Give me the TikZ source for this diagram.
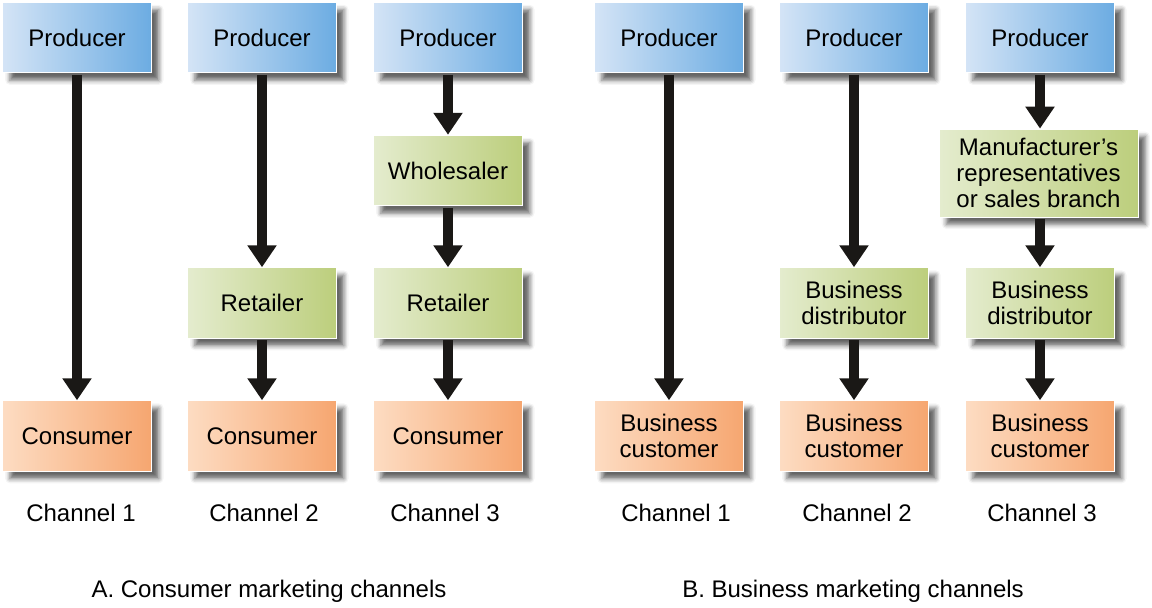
\documentclass[tikz,border=0pt]{standalone}
\usepackage{fontspec}
\setmainfont{Liberation Sans}
\usetikzlibrary{arrows.meta,shadows.blur}
\definecolor{bL}{RGB}{212,228,246}
\definecolor{bR}{RGB}{108,172,226}
\definecolor{gL}{RGB}{228,236,206}
\definecolor{gR}{RGB}{188,206,124}
\definecolor{oL}{RGB}{253,220,194}
\definecolor{oR}{RGB}{246,166,112}
\definecolor{arr}{RGB}{26,24,22}
\begin{document}
\begin{tikzpicture}[x=0.75pt,y=-0.75pt,
  box/.style={rectangle, inner sep=0pt, minimum width=111.75pt, minimum height=53pt,
    draw=white, line width=0.6pt, align=center,
    font=\fontsize{18}{19.5}\selectfont,
    blur shadow={shadow xshift=5.5pt, shadow yshift=-5.5pt, shadow blur radius=3.5pt, shadow opacity=60}},
  prod/.style={box, left color=bL, right color=bR},
  mid/.style={box, left color=gL, right color=gR},
  cons/.style={box, left color=oL, right color=oR},
  lab/.style={font=\fontsize{18}{19.5}\selectfont, inner sep=0pt},
  flow/.style={draw=arr, line width=7.5pt, -{Triangle[width=21pt,length=16.5pt]}, shorten <=1pt}
]
\useasboundingbox (0,0) rectangle (1152,607);

% Column A1
\node[prod] (pa1) at (77,37.5) {Producer};
\node[cons] (ca1) at (77,436) {Consumer};
% Column A2
\node[prod] (pa2) at (262,37.5) {Producer};
\node[mid]  (ra2) at (262,303) {Retailer};
\node[cons] (ca2) at (262,436) {Consumer};
% Column A3
\node[prod] (pa3) at (448,37.5) {Producer};
\node[mid]  (wa3) at (448,170.5) {Wholesaler};
\node[mid]  (ra3) at (448,303) {Retailer};
\node[cons] (ca3) at (448,436) {Consumer};
% Column B1
\node[prod] (pb1) at (669,37.5) {Producer};
\node[cons] (cb1) at (669,436) {Business\\customer};
% Column B2
\node[prod] (pb2) at (854,37.5) {Producer};
\node[mid]  (db2) at (854,303) {Business\\distributor};
\node[cons] (cb2) at (854,436) {Business\\customer};
% Column B3
\node[prod] (pb3) at (1040,37.5) {Producer};
\node[mid, minimum width=149.25pt, minimum height=66pt] (mb3) at (1038.5,173) {Manufacturer’s\\representatives\\or sales branch};
\node[mid]  (db3) at (1040,303) {Business\\distributor};
\node[cons] (cb3) at (1040,436) {Business\\customer};

% Arrows
\draw[flow] (pa1) -- (ca1);
\draw[flow] (pa2) -- (ra2);
\draw[flow] (ra2) -- (ca2);
\draw[flow] (pa3) -- (wa3);
\draw[flow] (wa3) -- (ra3);
\draw[flow] (ra3) -- (ca3);
\draw[flow] (pb1) -- (cb1);
\draw[flow] (pb2) -- (db2);
\draw[flow] (db2) -- (cb2);
\draw[flow] (pb3.south) -- (pb3.south |- mb3.north);
\draw[flow] (mb3.south -| db3.north) -- (db3);
\draw[flow] (db3) -- (cb3);

% Channel labels
\node[lab] (la1) at (81,513) {Channel 1};
\node[lab] (la2) at (264,513) {Channel 2};
\node[lab] (la3) at (445,513) {Channel 3};
\node[lab] (lb1) at (676,513) {Channel 1};
\node[lab] (lb2) at (857,513) {Channel 2};
\node[lab] (lb3) at (1042,513) {Channel 3};

% Titles
\node[lab] (ta) at (269,591) {A. Consumer marketing channels};
\node[lab] (tb) at (853,591) {B. Business marketing channels};
\end{tikzpicture}
\end{document}
